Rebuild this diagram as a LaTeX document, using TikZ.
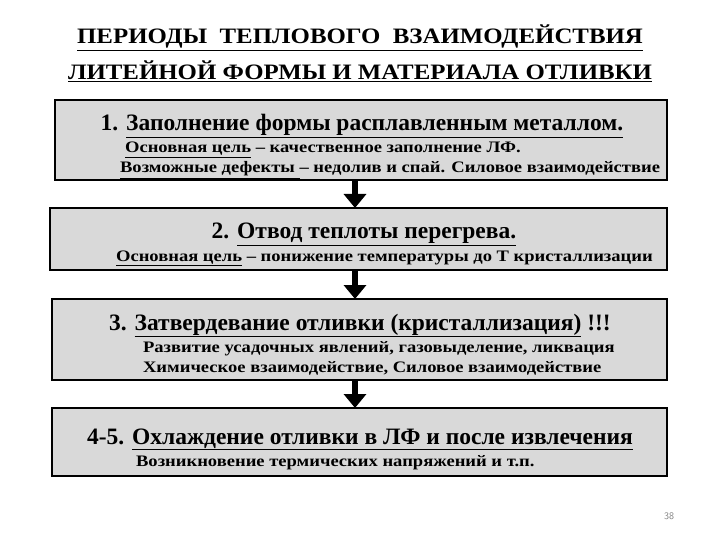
\documentclass[tikz,border=0pt]{standalone}
\usepackage{fontspec}
\setmainfont{Liberation Serif}
\usetikzlibrary{arrows.meta}
\begin{document}
\begin{tikzpicture}[x=1pt,y=-1pt,
  stage/.style={draw=black,line width=2.2pt,fill=black!15},
  flow/.style={line width=6pt,-{Triangle[length=14pt,width=22pt]}},
  head/.style={font=\bfseries\fontsize{23.5}{26}\selectfont,anchor=base},
  sub/.style={font=\bfseries\fontsize{16}{18}\selectfont,anchor=base west,xscale=1.16},
  ttl/.style={font=\bfseries\fontsize{22}{24}\selectfont,anchor=base,xscale=1.13}]
\useasboundingbox (0,0) rectangle (720,540);
\node[ttl] (t1) at (360,44) {\underline{ПЕРИОДЫ\ \ ТЕПЛОВОГО\ \ ВЗАИМОДЕЙСТВИЯ}};
\node[ttl] (t2) at (360,80) {\underline{ЛИТЕЙНОЙ ФОРМЫ И МАТЕРИАЛА ОТЛИВКИ}};
\draw[stage] (55,100) rectangle (667,180);
\coordinate (b1b) at (355,180);
\node[head] (h1) at (362,131) {1. \underline{Заполнение формы расплавленным металлом.}};
\node[sub] (s11) at (121,153) {\underline{Основная цель} – качественное заполнение ЛФ.};
\node[sub] (s12) at (116,173) {\underline{Возможные дефекты }– недолив и спай. Силовое взаимодействие};
\draw[stage] (50,208) rectangle (667,270);
\coordinate (b2t) at (355,208);\coordinate (b2b) at (355,270);
\node[head] (h2) at (364,239) {2. \underline{Отвод теплоты перегрева.}};
\node[sub] (s21) at (112,261) {\underline{Основная цель} – понижение температуры до Т кристаллизации};
\draw[stage] (52,299) rectangle (667,380);
\coordinate (b3t) at (355,299);\coordinate (b3b) at (355,380);
\node[head] (h3) at (360,330) {3. \underline{Затвердевание отливки (кристаллизация)} !!!};
\node[sub] (s31) at (139,352) {Развитие усадочных явлений, газовыделение, ликвация};
\node[sub] (s32) at (139,372) {Химическое взаимодействие, Силовое взаимодействие};
\draw[stage] (52,408) rectangle (667,476);
\coordinate (b4t) at (355,408);
\node[head] (h4) at (360,444) {4-5. \underline{Охлаждение отливки в ЛФ и после извлечения}};
\node[sub] (s41) at (132,466) {Возникновение термических напряжений и т.п.};
\draw[flow] (b1b) -- (b2t);
\draw[flow] (b2b) -- (b3t);
\draw[flow] (b3b) -- (b4t);
\node[font=\sffamily\fontsize{10}{12}\selectfont,text=black!50,anchor=base] (pg) at (669,519) {38};
\end{tikzpicture}
\end{document}
